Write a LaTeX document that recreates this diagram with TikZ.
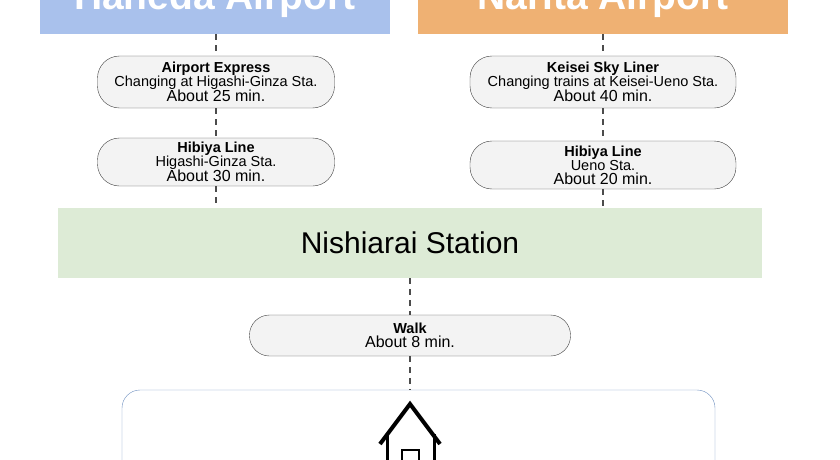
\documentclass[tikz,border=0pt]{standalone}
\usepackage{fontspec}
\setmainfont{Liberation Sans}
\usetikzlibrary{positioning}
\definecolor{hanedablue}{HTML}{A9C1EC}
\definecolor{naritaorange}{HTML}{EFB173}
\definecolor{stationgreen}{HTML}{DDEBD6}
\definecolor{pillgrey}{HTML}{F3F3F3}
\definecolor{homeblue}{HTML}{6C8EBF}
\begin{document}
\begin{tikzpicture}[x=1pt,y=-1pt,
    airport/.style={fill=#1, minimum height=70pt, text=white, font=\fontsize{39}{39}\selectfont\bfseries},
    route/.style={draw=black!75, fill=pillgrey, rounded corners=22pt, align=center, inner sep=1pt, font=\fontsize{14.5}{14}\selectfont},
    link/.style={draw=black!70, line width=1.3pt, dash pattern=on 6pt off 5pt}
    ]
    \useasboundingbox (0,0) rectangle (840,460);
    % airports
    \node[airport=hanedablue, minimum width=350pt] (haneda) at (215,-1) {Haneda Airport};
    \node[airport=naritaorange, minimum width=370pt] (narita) at (603,-1) {Narita Airport};
    % routes from Haneda
    \node[route, minimum width=237pt, minimum height=52pt] (express) at (216,82)
        {\textbf{Airport Express}\\Changing at Higashi-Ginza Sta.\\{\fontsize{16}{15}\selectfont About 25 min.}};
    \node[route, minimum width=237pt, minimum height=48pt] (hibiyaL) at (216,162)
        {\textbf{Hibiya Line}\\Higashi-Ginza Sta.\\{\fontsize{16}{15}\selectfont About 30 min.}};
    % routes from Narita
    \node[route, minimum width=266pt, minimum height=52pt] (skyliner) at (603,82)
        {\textbf{Keisei Sky Liner}\\Changing trains at Keisei-Ueno Sta.\\{\fontsize{16}{15}\selectfont About 40 min.}};
    \node[route, minimum width=266pt, minimum height=48pt] (hibiyaR) at (603,165)
        {\textbf{Hibiya Line}\\Ueno Sta.\\{\fontsize{16}{15}\selectfont About 20 min.}};
    % station
    \node[fill=stationgreen, minimum width=704pt, minimum height=70pt, font=\fontsize{30}{30}\selectfont] (station) at (410,243) {Nishiarai Station};
    \node[route, minimum width=321pt, minimum height=41pt, rounded corners=20pt] (walk) at (410,335.5)
        {\textbf{Walk}\\{\fontsize{16}{15}\selectfont About 8 min.}};
    % home
    \draw[homeblue, rounded corners=18pt] (122,500) -- (122,390) -- (715,390) -- (715,500);
    \coordinate (home) at (410,390);
    \draw[line width=4pt, line join=miter] (380,444) -- (410,404) -- (440,444);
    \draw[line width=3pt] (387,434) -- (387,470) (434,434) -- (434,470);
    \draw[line width=1.5pt] (402,471) rectangle (419,450);
    % connectors
    \draw[link] (haneda.south -| express.north) -- (express.north);
    \draw[link] (express) -- (hibiyaL);
    \draw[link] (hibiyaL.south) -- (hibiyaL.south |- station.north);
    \draw[link] (narita.south -| skyliner.north) -- (skyliner.north);
    \draw[link] (skyliner) -- (hibiyaR);
    \draw[link] (hibiyaR.south) -- (hibiyaR.south |- station.north);
    \draw[link] (station) -- (walk);
    \draw[link] (walk.south) -- (home);
\end{tikzpicture}
\end{document}
